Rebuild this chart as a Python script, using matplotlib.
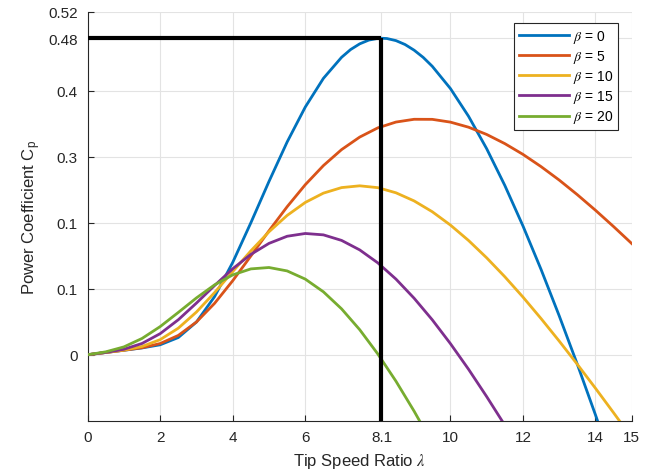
import matplotlib
matplotlib.use("Agg")
import matplotlib.pyplot as plt

plt.rcParams['font.family'] = ['Liberation Sans', 'DejaVu Sans']
plt.rcParams['mathtext.fontset'] = 'stix'

# tip speed ratio samples
lam = [0, 0.5, 1, 1.5, 2, 2.5, 3, 3.5, 4, 4.5, 5, 5.5, 6, 6.5, 7, 7.5,
       8, 8.5, 9, 9.5, 10, 10.5, 11, 11.5, 12, 12.5, 13, 13.5, 14, 14.5, 15]
# beta = 0 read a bit finer around its peak
lam_b0 = [0, 0.5, 1, 1.5, 2, 2.5, 3, 3.5, 4, 4.5, 5, 5.5, 6, 6.5, 7, 7.25,
          7.5, 7.75, 8, 8.1, 8.25, 8.5, 8.75, 9, 9.25, 9.5, 10, 10.5, 11,
          11.5, 12, 12.5, 13, 13.5, 14, 14.5]

# power coefficient (one list per pitch angle)
cp_b0 = [0, 0.0034, 0.0068, 0.0103, 0.0151, 0.0261, 0.0496, 0.0882, 0.1401,
         0.2002, 0.2629, 0.3227, 0.3757, 0.4192, 0.4511, 0.4629, 0.4715,
         0.4772, 0.4798, 0.4800, 0.4796, 0.4764, 0.4705, 0.4619, 0.4510,
         0.4375, 0.4038, 0.3617, 0.3125, 0.2568, 0.1954, 0.1293, 0.0590,
         -0.0146, -0.0913, -0.1702]
cp_b5 = [0, 0.0034, 0.0068, 0.0106, 0.0170, 0.0293, 0.0497, 0.0780, 0.1123,
         0.1498, 0.1880, 0.2245, 0.2579, 0.2869, 0.3111, 0.3301, 0.3441,
         0.3529, 0.3571, 0.3570, 0.3528, 0.3451, 0.3341, 0.3202, 0.3039,
         0.2853, 0.2649, 0.2427, 0.2191, 0.1943, 0.1686]
cp_b10 = [0, 0.0034, 0.0070, 0.0125, 0.0229, 0.0403, 0.0648, 0.0943, 0.1261,
          0.1576, 0.1865, 0.2113, 0.2310, 0.2451, 0.2535, 0.2562, 0.2534,
          0.2456, 0.2333, 0.2169, 0.1967, 0.1733, 0.1470, 0.1183, 0.0875,
          0.0548, 0.0207, -0.0146, -0.0509, -0.0881, -0.1259]
cp_b15 = [0, 0.0035, 0.0083, 0.0171, 0.0320, 0.0531, 0.0784, 0.1050, 0.1304,
          0.1522, 0.1689, 0.1797, 0.1839, 0.1818, 0.1734, 0.1590, 0.1393,
          0.1147, 0.0857, 0.0530, 0.0169, -0.0220, -0.0635, -0.1068]
cp_b20 = [0, 0.0044, 0.0119, 0.0247, 0.0427, 0.0642, 0.0862, 0.1060, 0.1211,
          0.1302, 0.1323, 0.1271, 0.1147, 0.0954, 0.0696, 0.0380, 0.0011,
          -0.0402, -0.0856, -0.1344]

series = [(lam_b0, cp_b0, r'$\beta$ = 0', '#0072BD'),
          (lam, cp_b5, r'$\beta$ = 5', '#D95319'),
          (lam, cp_b10, r'$\beta$ = 10', '#EDB120'),
          (lam, cp_b15, r'$\beta$ = 15', '#7E2F8E'),
          (lam, cp_b20, r'$\beta$ = 20', '#77AC30')]

# optimum operating point
lam_opt = 8.1
cp_max = 0.48

xticks = [0, 2, 4, 6, 8.1, 10, 12, 14, 15]
xtick_labels = ['0', '2', '4', '6', '8.1', '10', '12', '14', '15']
yticks = [0, 0.1, 0.2, 0.3, 0.4, 0.48, 0.52]
ytick_labels = ['0', '0.1', '0.1', '0.3', '0.4', '0.48', '0.52']

fig = plt.figure(figsize=(6.54, 4.77), dpi=100)
ax = fig.add_axes([0.134, 0.116, 0.832, 0.857])

for x, cp, label, color in series:
    ax.plot(x[:len(cp)], cp, color=color, lw=2, label=label, zorder=3)

ax.plot([0, lam_opt], [cp_max, cp_max], color='black', lw=3, zorder=4,
        solid_capstyle='butt')
ax.plot([lam_opt, lam_opt], [cp_max, -0.1], color='black', lw=3, zorder=4,
        solid_capstyle='butt')

ax.set_xlim(0, 15)
ax.set_ylim(-0.1, 0.52)
ax.set_xticks(xticks)
ax.set_xticklabels(xtick_labels)
ax.set_yticks(yticks)
ax.set_yticklabels(ytick_labels)

ax.grid(True, color='#e3e3e3', lw=0.8, zorder=0)
ax.set_axisbelow(True)
for side in ['top', 'right']:
    ax.spines[side].set_visible(False)
for side in ['left', 'bottom']:
    ax.spines[side].set_color('#262626')
    ax.spines[side].set_linewidth(0.8)
ax.tick_params(direction='in', length=4, width=0.8, colors='#262626',
               labelsize=11, pad=7)

ax.set_xlabel(r'Tip Speed Ratio $\lambda$', fontsize=12, color='#262626',
              labelpad=5)
ax.set_ylabel(r'Power Coefficient C$_\mathregular{p}$', fontsize=12,
              color='#262626')

leg = ax.legend(loc='upper right', bbox_to_anchor=(0.975, 0.972),
                borderaxespad=0, fontsize=10, fancybox=False,
                framealpha=1, edgecolor='#262626', handlelength=3.6,
                handletextpad=0.3, labelspacing=0.22, borderpad=0.35)
leg.get_frame().set_linewidth(0.8)

fig.savefig('out.png', dpi=100)
